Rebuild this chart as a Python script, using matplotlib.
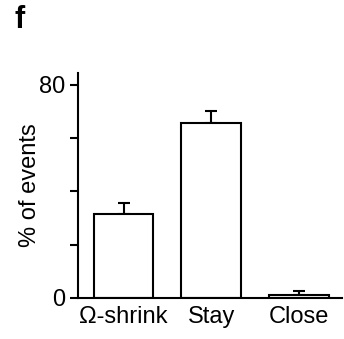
import matplotlib
matplotlib.use("Agg")
import matplotlib.pyplot as plt

categories = ["\u03a9-shrink", "Stay", "Close"]
values = [31.4, 65.9, 1.0]
errors = [4.4, 4.3, 1.5]
yticks = [0, 20, 40, 60, 80]
yticklabels = ["0", "", "", "", "80"]

plt.rcParams['font.family'] = ['Liberation Sans', 'DejaVu Sans']

fig = plt.figure(figsize=(3.44, 3.39), dpi=100)
ax = fig.add_axes([78/344, 1-298/339, (342-78)/344, (298-73)/339])

x = list(range(len(categories)))
ax.bar(x, values, width=0.68, color="white", edgecolor="black", linewidth=1.5, zorder=2)
ax.errorbar(x, values, yerr=[[0]*len(values), errors], fmt="none", ecolor="black",
            elinewidth=1.5, capsize=4, capthick=1.5, zorder=1)

ax.set_xlim(-0.52, 2.49)
ax.set_ylim(0, 84.5)
ax.set_yticks(yticks)
ax.set_yticklabels(yticklabels)
ax.set_xticks(x)
ax.set_xticklabels(categories)
ax.tick_params(axis="y", direction="out", length=6, width=1.5, labelsize=17, pad=3)
ax.tick_params(axis="x", length=0, labelsize=17, pad=6)
for s in ["top", "right"]:
    ax.spines[s].set_visible(False)
for s in ["left", "bottom"]:
    ax.spines[s].set_linewidth(1.5)
ax.set_ylabel("% of events", fontsize=17, labelpad=-1)

fig.text(14/344, 1-28/339, "f", fontsize=22, fontweight="bold")

fig.savefig("out.png", dpi=100)
